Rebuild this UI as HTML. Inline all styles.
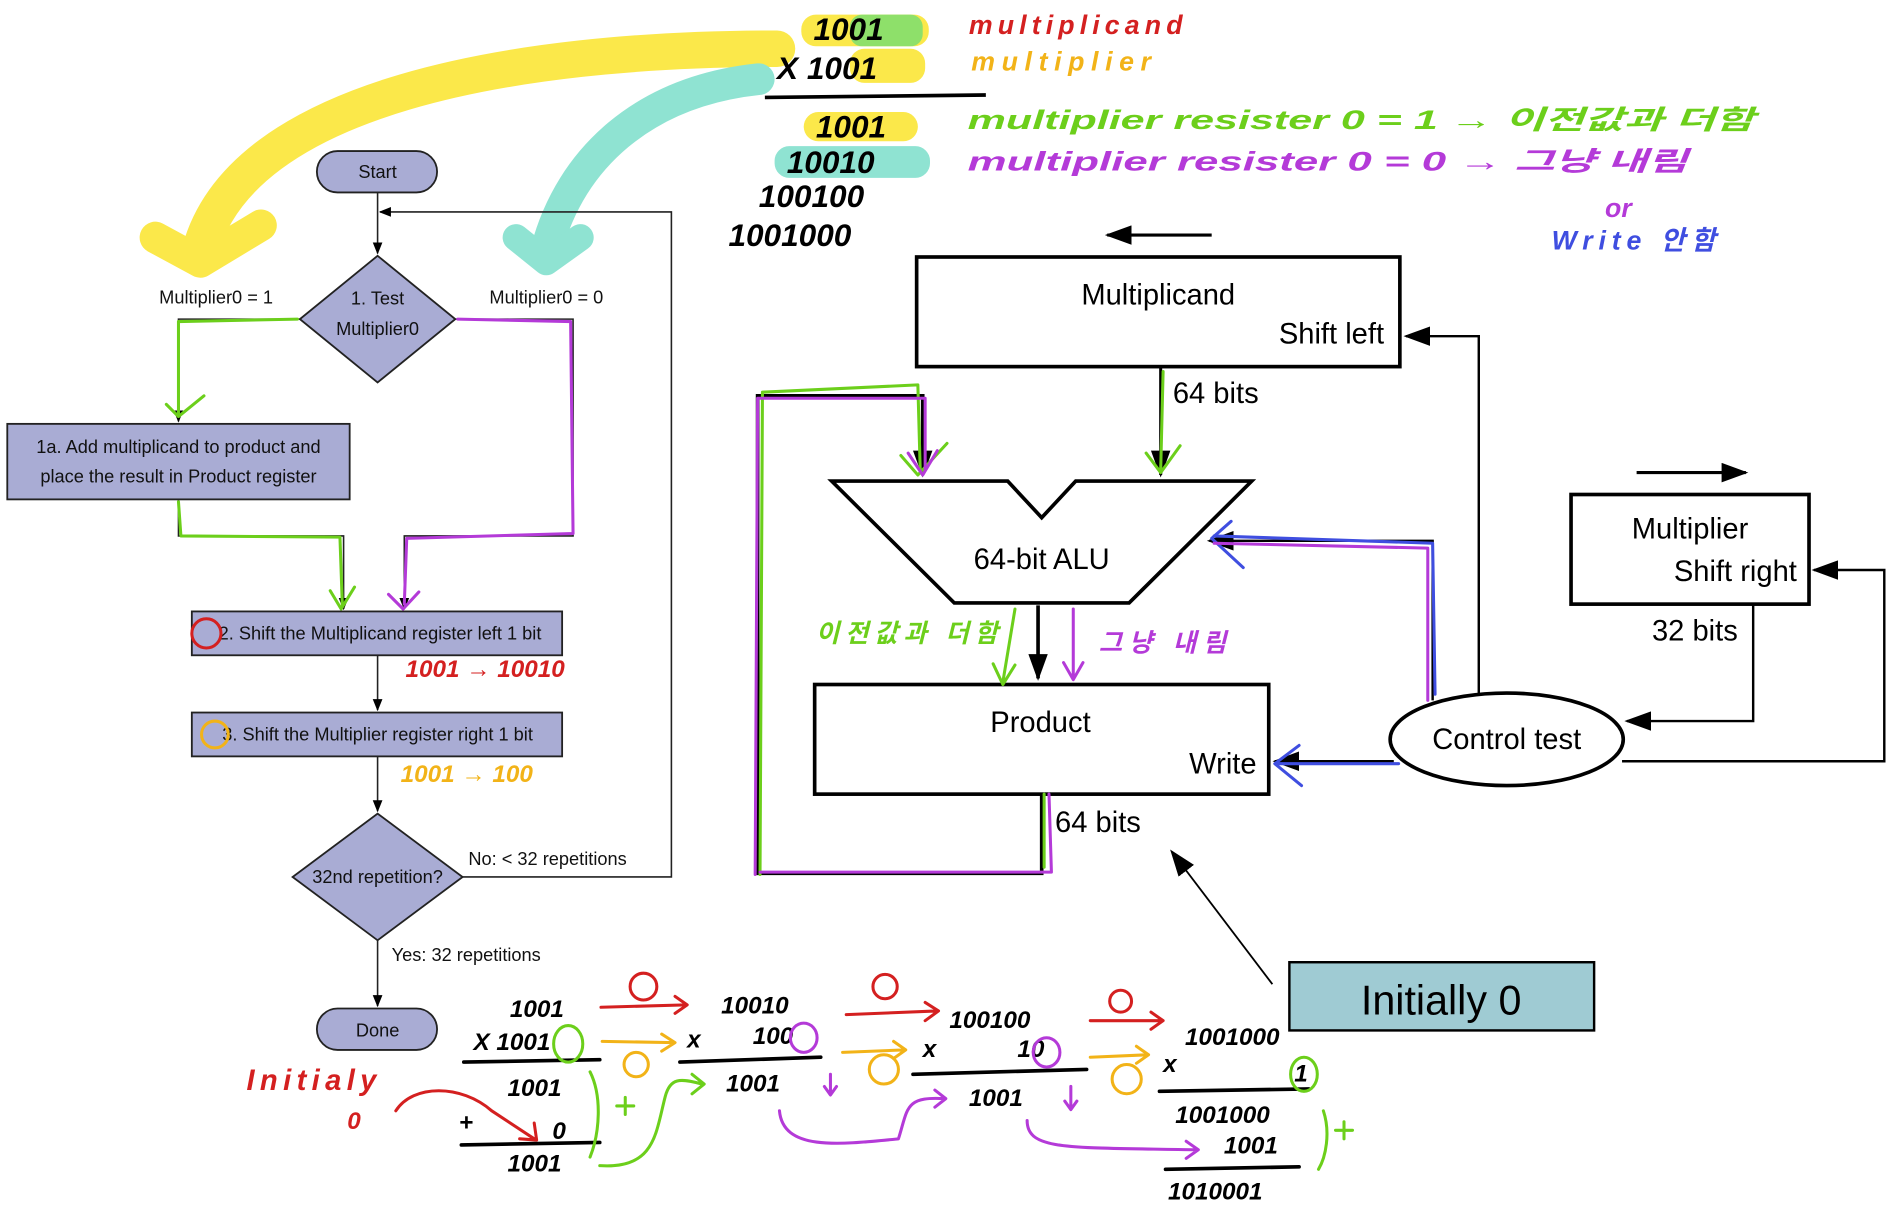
<!DOCTYPE html>
<html><head><meta charset="utf-8"><style>
html,body{margin:0;padding:0;background:#fff;width:1894px;height:1218px;overflow:hidden}
svg{display:block}
.t{font-family:"Liberation Sans","Noto Sans CJK KR",sans-serif}
.h{font-family:"Liberation Sans","Noto Sans CJK KR",sans-serif;font-style:italic;font-weight:bold}
</style></head><body>
<svg width="1894" height="1218" viewBox="0 0 1560 1000" preserveAspectRatio="none" xmlns="http://www.w3.org/2000/svg">
<defs>
<marker id="a" markerWidth="10" markerHeight="10" refX="9" refY="5" orient="auto" markerUnits="userSpaceOnUse"><path d="M0,1 L10,5 L0,9 z" fill="#000"/></marker>
<marker id="b" markerWidth="22" markerHeight="16" refX="20" refY="8" orient="auto" markerUnits="userSpaceOnUse"><path d="M0,0 L22,8 L0,16 z" fill="#000"/></marker>
</defs>
<path d="M640,40 C420,40 200,80 165,205" stroke="#fbe84a" stroke-width="30" fill="none" stroke-linecap="round"/>
<path d="M128,195 L165,215 L215,185" stroke="#fbe84a" stroke-width="26" fill="none" stroke-linecap="round" stroke-linejoin="round"/>
<path d="M625,65 C530,75 470,130 450,205" stroke="#8fe3d2" stroke-width="26" fill="none" stroke-linecap="round"/>
<path d="M425,195 L450,215 L478,195" stroke="#8fe3d2" stroke-width="22" fill="none" stroke-linecap="round" stroke-linejoin="round"/>
<rect x="660" y="12" width="105" height="26" rx="12" fill="#fbe84a"/>
<rect x="700" y="12" width="60" height="26" rx="10" fill="#8ee06a"/>
<rect x="700" y="40" width="62" height="28" rx="12" fill="#fbe84a"/>
<rect x="662" y="92" width="94" height="24" rx="12" fill="#fbe84a"/>
<rect x="638" y="120" width="128" height="26" rx="12" fill="#8fe3d2"/>
<g class="h" font-size="26" fill="#000">
<text x="670" y="33">1001</text>
<text x="640" y="65">X 1001</text>
<text x="672" y="113">1001</text>
<text x="648" y="142">10010</text>
<text x="625" y="170">100100</text>
<text x="600" y="202">1001000</text>
</g>
<path d="M630,80 L812,78" stroke="#000" stroke-width="3"/>
<g class="h" font-size="22">
<text x="798" y="28" fill="#d42020" textLength="176">multiplicand</text>
<text x="800" y="58" fill="#f2b318" textLength="148">multiplier</text>
<text x="797" y="106" fill="#6ccf1b" textLength="648" lengthAdjust="spacingAndGlyphs">multiplier resister 0 = 1  →  이전값과 더함</text>
<text x="797" y="140" fill="#b43ad8" textLength="593" lengthAdjust="spacingAndGlyphs">multiplier resister 0 = 0  →  그냥 내림</text>
<text x="1322" y="178" fill="#b43ad8">or</text>
<text x="1278" y="205" fill="#3f4ee0" textLength="135">Write 안함</text>
</g>
<g stroke="#222" stroke-width="1.3" fill="none">
<path d="M311,158 L311,208" marker-end="url(#a)"/>
<path d="M247,262 L147,262 L147,346" marker-end="url(#a)"/>
<path d="M375,262 L472,262 L472,440 L333,440 L333,500" marker-end="url(#a)"/>
<path d="M147,410 L147,440 L283,440 L283,500" marker-end="url(#a)"/>
<path d="M311,538 L311,583" marker-end="url(#a)"/>
<path d="M311,621 L311,666" marker-end="url(#a)"/>
<path d="M381,720 L553,720 L553,174 L313,174" marker-end="url(#a)"/>
<path d="M311,772 L311,826" marker-end="url(#a)"/>
</g>
<g fill="#a9acd4" stroke="#222" stroke-width="1.5">
<rect x="261" y="124" width="99" height="34" rx="17"/>
<path d="M311,210 L375,262 L311,314 L247,262 z"/>
<rect x="6" y="348" width="282" height="62"/>
<rect x="158" y="502" width="305" height="36"/>
<rect x="158" y="585" width="305" height="36"/>
<path d="M311,668 L381,720 L311,772 L241,720 z"/>
<rect x="261" y="828" width="99" height="34" rx="17"/>
</g>
<g class="t" font-size="15" fill="#111" text-anchor="middle">
<text x="311" y="146">Start</text>
<text x="311" y="250">1.  Test</text>
<text x="311" y="275">Multiplier0</text>
<text x="178" y="249">Multiplier0 = 1</text>
<text x="450" y="249">Multiplier0 = 0</text>
<text x="147" y="372">1a.  Add multiplicand to product and</text>
<text x="147" y="396">place the result in Product register</text>
<text x="313" y="525">2. Shift the Multiplicand register left 1 bit</text>
<text x="311" y="608">3. Shift the Multiplier register right 1 bit</text>
<text x="311" y="725">32nd repetition?</text>
<text x="451" y="710">No: &lt; 32 repetitions</text>
<text x="384" y="789">Yes: 32 repetitions</text>
<text x="311" y="851">Done</text>
</g>
<circle cx="170" cy="520" r="12" fill="none" stroke="#d42020" stroke-width="2.5"/>
<circle cx="177" cy="603" r="11" fill="none" stroke="#f2b318" stroke-width="2.5"/>
<g class="h" font-size="20">
<text x="334" y="556" fill="#d42020">1001 → 10010</text>
<text x="330" y="642" fill="#f2b318">1001 → 100</text>
</g>
<g fill="none" stroke-width="2.5" stroke-linecap="round" stroke-linejoin="round">
<path d="M245,262 L147,264 L147,340 M137,332 L147,342 L168,325" stroke="#6ccf1b"/>
<path d="M147,412 L149,440 L280,441 L282,498 M272,485 L281,500 L292,482" stroke="#6ccf1b"/>
<path d="M377,262 L470,264 L472,438 L335,442 L333,496 M320,488 L332,500 L345,486" stroke="#b43ad8"/>
</g>
<g stroke="#000" fill="none">
<rect x="755" y="211" width="398" height="90" stroke-width="3"/>
<rect x="671" y="562" width="374" height="90" stroke-width="3"/>
<rect x="1294" y="406" width="196" height="90" stroke-width="3"/>
<path d="M685,395 L830,395 L858,425 L886,395 L1031,395 L930,495 L786,495 z" stroke-width="3"/>
<ellipse cx="1241" cy="607" rx="96" ry="38" stroke-width="3" fill="#fff"/>
<path d="M998,193 L912,193" stroke-width="2.5" marker-end="url(#b)"/>
<path d="M1348,388 L1438,388" stroke-width="2.5" marker-end="url(#b)"/>
<path d="M956,301 L956,390" stroke-width="2.5" marker-end="url(#b)"/>
<path d="M855,497 L855,557" stroke-width="3" marker-end="url(#b)"/>
<path d="M858,652 L858,717 L624,717 L624,325 L760,325 L760,390" stroke-width="3" marker-end="url(#b)"/>
<path d="M1218,570 L1218,276 L1158,276" stroke-width="2" marker-end="url(#b)"/>
<path d="M1180,575 L1180,444 L996,444" stroke-width="2" marker-end="url(#b)"/>
<path d="M1148,625 L1050,625" stroke-width="2" marker-end="url(#b)"/>
<path d="M1444,496 L1444,592 L1340,592" stroke-width="2" marker-end="url(#b)"/>
<path d="M1336,625 L1552,625 L1552,468 L1494,468" stroke-width="2" marker-end="url(#b)"/>
<path d="M1048,808 L965,699" stroke-width="1.5" marker-end="url(#b)"/>
</g>
<g fill="none" stroke-width="2.5" stroke-linecap="round" stroke-linejoin="round">
<path d="M626,718 L628,322 L756,316 L758,388 M742,374 L756,390 L780,364" stroke="#6ccf1b"/>
<path d="M622,718 L624,327 L762,327 L762,386 M748,372 L760,390 L772,370" stroke="#b43ad8"/>
<path d="M864,652 L866,716 L626,716" stroke="#b43ad8"/>
<path d="M860,652 L860,712" stroke="#6ccf1b"/>
<path d="M958,305 L956,386 M944,372 L956,388 L972,366" stroke="#6ccf1b"/>
<path d="M1182,570 L1180,446 L1000,440 M1014,428 L998,442 L1024,466" stroke="#3f4ee0"/>
<path d="M1176,575 L1176,450 L1000,446" stroke="#b43ad8"/>
<path d="M1152,627 L1052,627 M1070,612 L1050,627 L1072,645" stroke="#3f4ee0"/>
<path d="M836,500 L826,560 M818,545 L826,562 L836,546" stroke="#6ccf1b"/>
<path d="M884,500 L884,556 M876,544 L884,558 L892,544" stroke="#b43ad8"/>
</g>
<g class="t" fill="#000" font-size="24">
<text x="954" y="250" text-anchor="middle">Multiplicand</text>
<text x="1140" y="282" text-anchor="end">Shift left</text>
<text x="966" y="331">64 bits</text>
<text x="858" y="467" text-anchor="middle">64-bit ALU</text>
<text x="857" y="601" text-anchor="middle">Product</text>
<text x="1035" y="635" text-anchor="end">Write</text>
<text x="869" y="683">64 bits</text>
<text x="1241" y="615" text-anchor="middle">Control test</text>
<text x="1392" y="442" text-anchor="middle">Multiplier</text>
<text x="1480" y="477" text-anchor="end">Shift right</text>
<text x="1396" y="526" text-anchor="middle">32 bits</text>
</g>
<g class="h" font-size="21">
<text x="672" y="527" fill="#6ccf1b" textLength="150">이전값과 더함</text>
<text x="905" y="535" fill="#b43ad8" textLength="105">그냥 내림</text>
</g>
<rect x="1062" y="790" width="251" height="56" fill="#9fcbd3" stroke="#000" stroke-width="2"/>
<text x="1187" y="833" class="t" font-size="34" text-anchor="middle" fill="#000">Initially 0</text>
<g class="h" font-size="20" fill="#000">
<text x="420" y="835">1001</text>
<text x="390" y="862">X 1001</text>
<text x="418" y="900">1001</text>
<text x="378" y="928">+</text>
<text x="455" y="935">0</text>
<text x="418" y="962">1001</text>
<text x="594" y="832">10010</text>
<text x="566" y="860">x</text>
<text x="620" y="857">100</text>
<text x="598" y="896">1001</text>
<text x="782" y="844">100100</text>
<text x="760" y="868">x</text>
<text x="838" y="868">10</text>
<text x="798" y="908">1001</text>
<text x="976" y="858">1001000</text>
<text x="958" y="880">x</text>
<text x="1066" y="888">1</text>
<text x="968" y="922">1001000</text>
<text x="1008" y="947">1001</text>
<text x="962" y="985">1010001</text>
</g>
<g fill="none" stroke="#000" stroke-width="3" stroke-linecap="round">
<path d="M382,872 L494,870"/><path d="M380,940 L494,938"/>
<path d="M560,872 L676,868"/><path d="M752,882 L895,878"/>
<path d="M955,896 L1078,894"/><path d="M960,960 L1070,958"/>
</g>
<g class="h">
<text x="203" y="895" font-size="24" fill="#d42020" textLength="107">Initialy</text>
<text x="286" y="927" font-size="20" fill="#d42020">0</text>
</g>
<g fill="none" stroke-width="2.5" stroke-linecap="round" stroke-linejoin="round">
<path d="M326,912 C340,890 380,890 405,912 L440,935 M428,935 L442,936 L440,922" stroke="#d42020"/>
<path d="M495,827 L565,825 M556,818 L566,825 L556,832" stroke="#d42020"/>
<path d="M697,833 L772,830 M762,823 L773,830 L762,838" stroke="#d42020"/>
<path d="M898,838 L958,838 M948,831 L958,838 L948,845" stroke="#d42020"/>
<circle cx="530" cy="810" r="11" stroke="#d42020"/><circle cx="729" cy="810" r="10" stroke="#d42020"/><circle cx="923" cy="822" r="9" stroke="#d42020"/>
<path d="M496,855 L555,856 M545,849 L556,856 L545,863" stroke="#f2b318"/>
<path d="M694,864 L745,862 M736,855 L746,862 L736,869" stroke="#f2b318"/>
<path d="M898,868 L945,866 M936,859 L946,866 L936,873" stroke="#f2b318"/>
<circle cx="524" cy="874" r="10" stroke="#f2b318"/><circle cx="728" cy="878" r="12" stroke="#f2b318"/><circle cx="928" cy="886" r="12" stroke="#f2b318"/>
<ellipse cx="468" cy="857" rx="12" ry="15" stroke="#6ccf1b"/>
<ellipse cx="1074" cy="882" rx="11" ry="14" stroke="#6ccf1b"/>
<path d="M486,880 C496,900 494,930 486,950" stroke="#6ccf1b"/>
<path d="M1090,912 C1096,930 1092,950 1086,960" stroke="#6ccf1b"/>
<path d="M494,957 C540,960 540,930 548,900 C552,885 560,885 578,890 M570,882 L580,890 L570,898" stroke="#6ccf1b"/>
<ellipse cx="662" cy="852" rx="11" ry="12" stroke="#b43ad8"/>
<ellipse cx="862" cy="864" rx="11" ry="12" stroke="#b43ad8"/>
<path d="M642,912 C645,945 690,940 740,935 C748,910 745,900 778,902 M770,895 L779,902 L770,909" stroke="#b43ad8"/>
<path d="M846,920 C846,945 880,942 986,944 M977,937 L987,944 L977,951" stroke="#b43ad8"/>
<path d="M684,882 L684,898 M679,892 L684,899 L689,892" stroke="#b43ad8"/>
<path d="M882,892 L882,910 M877,904 L882,911 L887,904" stroke="#b43ad8"/>
<path d="M508,908 L522,908 M515,901 L515,915" stroke="#6ccf1b"/>
<path d="M1100,928 L1114,928 M1107,921 L1107,935" stroke="#6ccf1b"/>
</g>
</svg>
</body></html>
